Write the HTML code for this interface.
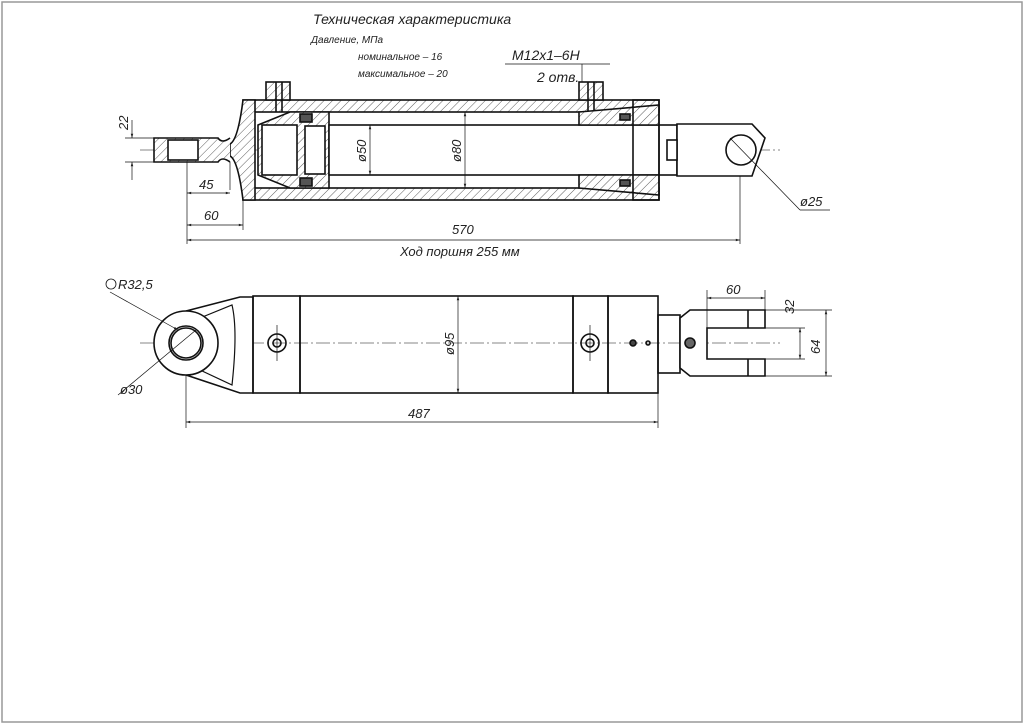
<!DOCTYPE html>
<html><head><meta charset="utf-8"><style>
body{margin:0;background:#fff}
svg{display:block}
text{font-family:"Liberation Sans",sans-serif;font-style:italic;fill:#222}
</style></head><body>
<svg width="1024" height="724" viewBox="0 0 1024 724" xmlns="http://www.w3.org/2000/svg">
<defs>
<pattern id="h" width="6" height="6" patternUnits="userSpaceOnUse" patternTransform="rotate(45)">
<rect width="6" height="6" fill="#fff"/><line x1="0" y1="0" x2="0" y2="6" stroke="#333" stroke-width="0.8"/></pattern>
<marker id="a" viewBox="0 0 10 10" refX="10" refY="5" markerWidth="8" markerHeight="6" orient="auto-start-reverse"><path d="M0,2 L10,5 L0,8 z" fill="#222"/></marker>
</defs>
<rect x="2" y="2" width="1020" height="720" fill="none" stroke="#999" stroke-width="1.5"/>
<g stroke="#111" stroke-width="1.6" fill="none">
<line x1="140" y1="150" x2="780" y2="150" stroke-width="0.6" stroke-dasharray="14,3,2,3"/>
<rect x="243" y="100" width="416" height="12" fill="url(#h)"/>
<rect x="243" y="188" width="416" height="12" fill="url(#h)"/>
<path d="M243,100 L255,100 L255,200 L243,200 Q238,160 230,156 L230,144 Q238,140 243,100z" fill="url(#h)"/>
<path d="M230,138 Q222,144 218,138 L154,138 L154,162 L218,162 Q222,156 230,162" fill="url(#h)"/>
<rect x="168" y="140" width="30" height="20" fill="#fff"/>
<rect x="266" y="82" width="24" height="18" fill="url(#h)"/><line x1="276" y1="82" x2="276" y2="112"/><line x1="282" y1="82" x2="282" y2="112"/>
<rect x="579" y="82" width="24" height="18" fill="url(#h)"/><line x1="588" y1="82" x2="588" y2="112"/><line x1="594" y1="82" x2="594" y2="112"/>
<path d="M258,125 L290,112 L329,112 L329,188 L290,188 L258,175z" fill="url(#h)"/>
<rect x="262" y="125" width="35" height="50" fill="#fff"/>
<rect x="305" y="126" width="20" height="48" fill="#fff"/>
<rect x="300" y="114" width="12" height="8" fill="#555"/><rect x="300" y="178" width="12" height="8" fill="#555"/>
<rect x="329" y="125" width="348" height="50" fill="#fff"/>
<path d="M579,112 L659,105 L659,195 L579,188 L579,175 L659,175 L659,125 L579,125z" fill="url(#h)"/>
<rect x="620" y="114" width="10" height="6" fill="#555"/><rect x="620" y="180" width="10" height="6" fill="#555"/>
<rect x="633" y="100" width="26" height="100" fill="none"/>
<path d="M677,124 L752,124 L765,138 L752,176 L677,176z" fill="#fff"/>
<circle cx="741" cy="150" r="15"/>
<rect x="667" y="140" width="10" height="20" fill="#fff"/>
<g stroke-width="0.7">
<line x1="125" y1="138" x2="154" y2="138"/><line x1="125" y1="162" x2="154" y2="162"/>
<line x1="132" y1="120" x2="132" y2="138" marker-end="url(#a)"/><line x1="132" y1="180" x2="132" y2="162" marker-end="url(#a)"/>
<line x1="187" y1="162" x2="187" y2="244"/><line x1="230" y1="162" x2="230" y2="190"/><line x1="243" y1="200" x2="243" y2="230"/><line x1="740" y1="176" x2="740" y2="244"/>
<line x1="187" y1="193" x2="230" y2="193" marker-start="url(#a)" marker-end="url(#a)"/>
<line x1="187" y1="225" x2="243" y2="225" marker-start="url(#a)" marker-end="url(#a)"/>
<line x1="187" y1="240" x2="740" y2="240" marker-start="url(#a)" marker-end="url(#a)"/>
<line x1="370" y1="125" x2="370" y2="175" marker-start="url(#a)" marker-end="url(#a)"/>
<line x1="465" y1="112" x2="465" y2="188" marker-start="url(#a)" marker-end="url(#a)"/>
<line x1="730" y1="138" x2="800" y2="210"/><line x1="800" y1="210" x2="830" y2="210"/>
<line x1="505" y1="64" x2="590" y2="64"/><line x1="582" y1="64" x2="582" y2="82"/><line x1="590" y1="64" x2="610" y2="64"/>
</g>
<line x1="140" y1="343" x2="780" y2="343" stroke-width="0.6" stroke-dasharray="14,3,2,3"/>
<path d="M186,311 L240,297 L253,297 L253,393 L240,393 L186,375" fill="#fff"/>
<path d="M200,318 L232,305 Q238,330 232,385 L200,370" stroke-width="1.2"/>
<circle cx="186" cy="343" r="32" fill="#fff"/><circle cx="186" cy="343" r="17"/><circle cx="186" cy="343" r="15"/>
<rect x="253" y="296" width="47" height="97"/>
<rect x="300" y="296" width="273" height="97"/>
<rect x="573" y="296" width="35" height="97"/>
<rect x="608" y="296" width="50" height="97"/>
<rect x="658" y="315" width="22" height="58"/>
<path d="M680,318 L690,310 L765,310 L765,328 L707,328 L707,359 L765,359 L765,376 L690,376 L680,368z" fill="#fff"/>
<line x1="748" y1="310" x2="748" y2="328"/><line x1="748" y1="359" x2="748" y2="376"/>
<circle cx="277" cy="343" r="9"/><circle cx="277" cy="343" r="4"/>
<circle cx="590" cy="343" r="9"/><circle cx="590" cy="343" r="4"/>
<circle cx="633" cy="343" r="3" fill="#444"/><circle cx="648" cy="343" r="2"/>
<circle cx="690" cy="343" r="5" fill="#666"/>
<g stroke-width="0.7">
<line x1="277" y1="325" x2="277" y2="361"/><line x1="590" y1="325" x2="590" y2="361"/>
<line x1="186" y1="375" x2="186" y2="428"/><line x1="658" y1="393" x2="658" y2="428"/>
<line x1="186" y1="422" x2="658" y2="422" marker-start="url(#a)" marker-end="url(#a)"/>
<line x1="458" y1="296" x2="458" y2="393" marker-start="url(#a)" marker-end="url(#a)"/>
<line x1="707" y1="290" x2="707" y2="328"/><line x1="765" y1="290" x2="765" y2="310"/>
<line x1="707" y1="298" x2="765" y2="298" marker-start="url(#a)" marker-end="url(#a)"/>
<line x1="765" y1="310" x2="832" y2="310"/><line x1="765" y1="376" x2="832" y2="376"/>
<line x1="765" y1="328" x2="805" y2="328"/><line x1="765" y1="359" x2="805" y2="359"/>
<line x1="800" y1="328" x2="800" y2="359" marker-start="url(#a)" marker-end="url(#a)"/>
<line x1="826" y1="310" x2="826" y2="376" marker-start="url(#a)" marker-end="url(#a)"/>
<line x1="110" y1="292" x2="178" y2="330" marker-end="url(#a)"/>
<line x1="118" y1="395" x2="196" y2="330"/>
</g>
<circle cx="111" cy="284" r="5" stroke-width="0.8"/>
</g>
<g font-size="13">
<text x="313" y="24" font-size="14">Техническая характеристика</text>
<text x="311" y="43" font-size="10">Давление, МПа</text>
<text x="358" y="60" font-size="10">номинальное – 16</text>
<text x="358" y="77" font-size="10">максимальное – 20</text>
<text x="512" y="60" font-size="14">M12x1–6H</text>
<text x="537" y="82" font-size="14">2 отв.</text>
<text x="128" y="130" transform="rotate(-90 128 130)" font-size="13">22</text>
<text x="199" y="189">45</text>
<text x="204" y="220">60</text>
<text x="452" y="234">570</text>
<text x="400" y="256">Ход поршня 255 мм</text>
<text x="366" y="162" transform="rotate(-90 366 162)">ø50</text>
<text x="461" y="162" transform="rotate(-90 461 162)">ø80</text>
<text x="800" y="206">ø25</text>
<text x="118" y="289">R32,5</text>
<text x="120" y="394">ø30</text>
<text x="408" y="418">487</text>
<text x="454" y="355" transform="rotate(-90 454 355)">ø95</text>
<text x="726" y="294">60</text>
<text x="794" y="314" transform="rotate(-90 794 314)">32</text>
<text x="820" y="354" transform="rotate(-90 820 354)">64</text>
</g>
</svg>
</body></html>
